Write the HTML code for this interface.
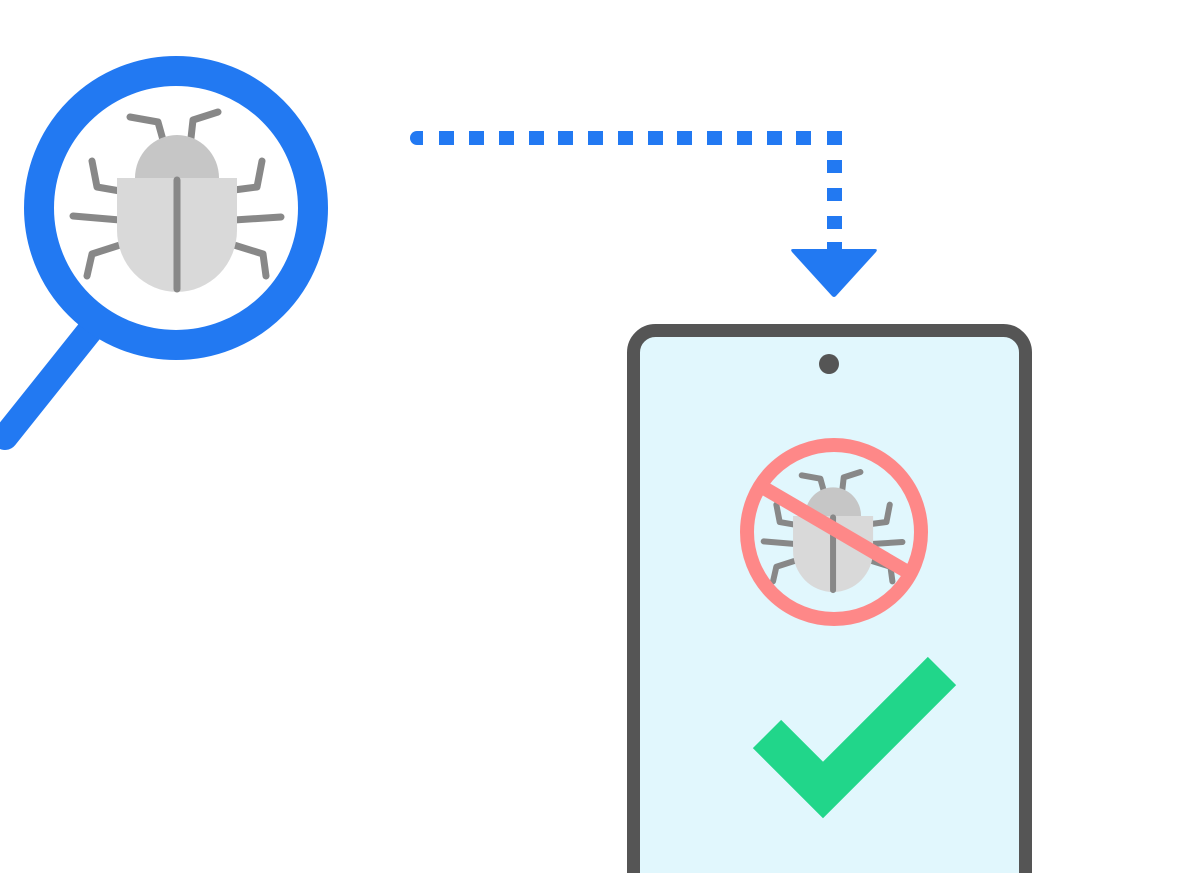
<!DOCTYPE html>
<html><head><style>html,body{margin:0;padding:0;background:#fff;width:1200px;height:873px;overflow:hidden;}svg{display:block}</style></head>
<body>
<svg width="1200" height="873" viewBox="0 0 1200 873" xmlns="http://www.w3.org/2000/svg">
<defs>
<g id="bug">
  <g stroke="#888" stroke-width="7" stroke-linecap="round" stroke-linejoin="round" fill="none">
    <polyline points="130,117 158,122 163,140"/>
    <polyline points="218,112 193,120 191,138"/>
    <polyline points="92,161 97,187 120,191"/>
    <polyline points="262,161 257,187 234,190"/>
    <polyline points="73,216 120,220"/>
    <polyline points="234,220 281,217"/>
    <polyline points="120,245 92,254 87,276"/>
    <polyline points="234,245 263,254 266,276"/>
  </g>
  <path d="M135,178 A42,43 0 0 1 219,178 Z" fill="#c6c6c6"/>
  <path d="M117,178 H237 V230 A60,62 0 0 1 117,230 Z" fill="#d9d9d9"/>
  <line x1="177" y1="180" x2="177" y2="289" stroke="#888" stroke-width="7" stroke-linecap="round"/>
</g>
<g id="bug2">
  <g stroke="#888" stroke-width="9" stroke-linecap="round" stroke-linejoin="round" fill="none">
    <polyline points="130,117 158,122 163,140"/>
    <polyline points="218,112 193,120 191,138"/>
    <polyline points="92,161 97,187 120,191"/>
    <polyline points="262,161 257,187 234,190"/>
    <polyline points="73,216 120,220"/>
    <polyline points="234,220 281,217"/>
    <polyline points="120,245 92,254 87,276"/>
    <polyline points="234,245 263,254 266,276"/>
  </g>
  <path d="M135,178 A42,43 0 0 1 219,178 Z" fill="#c6c6c6"/>
  <path d="M117,178 H237 V230 A60,62 0 0 1 117,230 Z" fill="#d9d9d9"/>
  <line x1="177" y1="180" x2="177" y2="289" stroke="#888" stroke-width="9" stroke-linecap="round"/>
</g>
</defs>
<line x1="92" y1="328" x2="5" y2="437" stroke="#2279f2" stroke-width="26" stroke-linecap="round"/>
<circle cx="176" cy="208" r="137" fill="#fff" stroke="#2279f2" stroke-width="30"/>
<use href="#bug"/>
<g fill="#2279f2">
  <path d="M417,131 H423 V145 H417 A7,7 0 0 1 417,131 Z"/>
  <rect x="439" y="131" width="15" height="14"/>
  <rect x="469" y="131" width="15" height="14"/>
  <rect x="499" y="131" width="15" height="14"/>
  <rect x="529" y="131" width="15" height="14"/>
  <rect x="558" y="131" width="15" height="14"/>
  <rect x="588" y="131" width="15" height="14"/>
  <rect x="618" y="131" width="15" height="14"/>
  <rect x="648" y="131" width="15" height="14"/>
  <rect x="677" y="131" width="15" height="14"/>
  <rect x="707" y="131" width="15" height="14"/>
  <rect x="737" y="131" width="15" height="14"/>
  <rect x="767" y="131" width="15" height="14"/>
  <rect x="796" y="131" width="15" height="14"/>
  <rect x="827" y="131" width="15" height="14"/>
  <rect x="827" y="160" width="15" height="13"/>
  <rect x="827" y="188" width="15" height="13"/>
  <rect x="827" y="216" width="15" height="13"/>
  <rect x="827" y="242" width="15" height="10"/>
  <path d="M793,249 H875 Q878,249 876,252 L836,296 Q834,298 832,296 L792,252 Q790,249 793,249 Z"/>
</g>
<path d="M633.5,873 V352.5 A22,22 0 0 1 655.5,330.5 H1003.5 A22,22 0 0 1 1025.5,352.5 V873 Z" fill="#e1f7fd"/>
<path d="M633.5,873 V352.5 A22,22 0 0 1 655.5,330.5 H1003.5 A22,22 0 0 1 1025.5,352.5 V873" fill="none" stroke="#555" stroke-width="13"/>
<circle cx="829" cy="364" r="10" fill="#555"/>
<g transform="translate(715,397.3) scale(0.667)"><use href="#bug2"/></g>
<circle cx="834" cy="532" r="87" fill="none" stroke="#fe8888" stroke-width="14"/>
<line x1="764" y1="488" x2="906" y2="571" stroke="#fe8888" stroke-width="14"/>
<polyline points="767,734 823,790 942,671" fill="none" stroke="#21d68a" stroke-width="40"/>
</svg>
</body></html>
